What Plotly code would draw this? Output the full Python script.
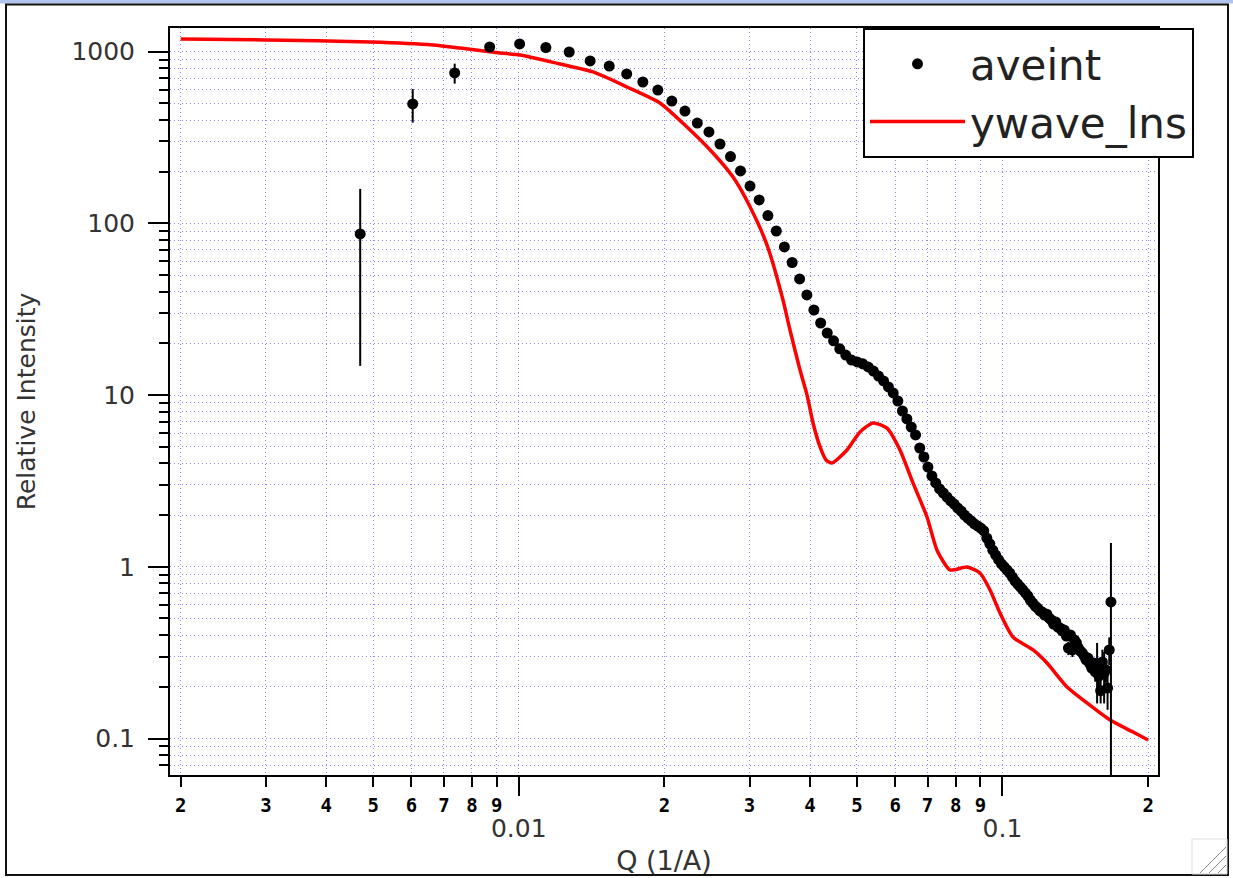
import plotly.graph_objects as go

# ---------------- data ----------------
q_aveint = [0.0047, 0.006035, 0.00737, 0.008705, 0.01004, 0.011375, 0.01271, 0.014045, 0.01538, 0.016715,
            0.01805, 0.019385, 0.02072, 0.022055, 0.02339, 0.024725, 0.02606, 0.027395, 0.02873, 0.030065,
            0.0314, 0.032735, 0.03407, 0.035405, 0.03674, 0.038075, 0.03941, 0.040745, 0.04208, 0.043415,
            0.04475, 0.046085, 0.04742, 0.048755, 0.05009, 0.051425, 0.05276, 0.054095, 0.05543, 0.056765,
            0.0581, 0.059435, 0.06077, 0.062105, 0.06344, 0.064775, 0.06611, 0.067445, 0.06878, 0.070115,
            0.07145, 0.072785, 0.07412, 0.075455, 0.07679, 0.078125, 0.07946, 0.080795, 0.08213, 0.083465,
            0.0848, 0.086135, 0.08747, 0.088805, 0.09014, 0.091475, 0.09281, 0.094145, 0.09548, 0.096815,
            0.09815, 0.099485, 0.10082, 0.102155, 0.10349, 0.104825, 0.10616, 0.107495, 0.10883, 0.110165,
            0.1115, 0.112835, 0.11417, 0.115505, 0.11684, 0.118175, 0.11951, 0.120845, 0.12218, 0.123515,
            0.12485, 0.126185, 0.12752, 0.128855, 0.13019, 0.131525, 0.13286, 0.134195, 0.13553, 0.136865,
            0.1382, 0.139535, 0.14087, 0.142205, 0.14354, 0.144875, 0.14621, 0.147545, 0.14888, 0.150215,
            0.15155, 0.152885, 0.15422, 0.155555, 0.15689, 0.158225, 0.15956, 0.160895, 0.16223, 0.163565,
            0.1649, 0.166235, 0.16757]
aveint = [86.8, 496, 752, 1065, 1109, 1058, 996, 883, 825, 742,
          666, 598, 516, 451, 384, 341, 290, 245, 202, 165,
          137, 111, 90.3, 72.9, 59.2, 47.5, 38.3, 31.3, 26.3, 23.0,
          20.7, 18.6, 17.1, 16.0, 15.6, 15.2, 14.6, 13.8, 12.9, 12.1,
          11.15, 10.3, 9.24, 8.08, 7.26, 6.52, 5.86, 4.92, 4.36, 3.81,
          3.38, 3.08, 2.84, 2.69, 2.55, 2.42, 2.32, 2.20, 2.11, 2.00,
          1.92, 1.85, 1.78, 1.73, 1.68, 1.62, 1.47, 1.36, 1.25, 1.17,
          1.10, 1.04, 1.00, 0.958, 0.920, 0.871, 0.826, 0.794, 0.763, 0.733,
          0.704, 0.676, 0.640, 0.615, 0.591, 0.575, 0.553, 0.545, 0.524, 0.530,
          0.503, 0.490, 0.464, 0.477, 0.446, 0.440, 0.423, 0.428, 0.395, 0.336,
          0.401, 0.328, 0.375, 0.360, 0.336, 0.323, 0.315, 0.302, 0.287, 0.294,
          0.272, 0.257, 0.275, 0.244, 0.26, 0.231, 0.19, 0.279, 0.24, 0.251,
          0.197, 0.328, 0.624]
# error bars that are visible beyond the markers (index into aveint, size)
err_index = [0, 1, 2, 99, 101, 110, 113, 114, 115, 116, 117, 118, 119, 120, 121, 122]
err_value = [72, 110, 100, 0.03, 0.03, 0.03, 0.03, 0.10, 0.04, 0.03, 0.05, 0.08, 0.04, 0.05, 0.06, 0.75]

q_model = [0.002, 0.003, 0.00493, 0.00665, 0.00756, 0.00915, 0.01006, 0.01217, 0.01424, 0.01674,
           0.01958, 0.02227, 0.0252, 0.02773, 0.03006, 0.0326, 0.03517, 0.03637, 0.03814, 0.03944,
           0.04058, 0.04196, 0.04317, 0.04442, 0.0477, 0.05075, 0.05399, 0.0577, 0.06139, 0.06531,
           0.06982, 0.07322, 0.0779, 0.08445, 0.08984, 0.09424, 0.09881, 0.1051, 0.1157, 0.1236,
           0.136, 0.1495, 0.1669, 0.1862, 0.2]
ywave_lns = [1186, 1170, 1139, 1094, 1051, 983, 957, 848, 762, 623,
             503, 364, 257, 186, 125, 74.8, 35.8, 23.9, 14.0, 10.0,
             6.88, 4.99, 4.19, 4.02, 4.79, 6.10, 6.88, 6.43, 4.79, 3.08,
             1.95, 1.25, 0.958, 0.997, 0.920, 0.733, 0.538, 0.390, 0.328, 0.275,
             0.1995, 0.161, 0.128, 0.109, 0.098]

x_digit_vals = [0.002, 0.003, 0.004, 0.005, 0.006, 0.007, 0.008, 0.009,
                0.02, 0.03, 0.04, 0.05, 0.06, 0.07, 0.08, 0.09, 0.2]
x_digit_text = ["2", "3", "4", "5", "6", "7", "8", "9",
                "2", "3", "4", "5", "6", "7", "8", "9", "2"]
x_major_vals = [0.01, 0.1]
x_major_text = ["0.01", "0.1"]
y_major_vals = [0.1, 1, 10, 100, 1000]
y_major_text = ["0.1", "1", "10", "100", "1000"]
y_minor_vals = [0.07, 0.08, 0.09,
                0.2, 0.3, 0.4, 0.5, 0.6, 0.7, 0.8, 0.9,
                2, 3, 4, 5, 6, 7, 8, 9,
                20, 30, 40, 50, 60, 70, 80, 90,
                200, 300, 400, 500, 600, 700, 800, 900]

x_range = [-2.7211, -0.6785]
y_range = [-1.2126, 3.138]

# ---------------- layout geometry ----------------
W, H = 1233, 878
L, R, T, B = 170, 1158, 28, 775


def px_x(px):
    return (px - L) / (R - L)


def px_y(py):
    return (B - py) / (B - T)


GRID = "#8c8cff"
GDASH = "1.2px,2.8px"

full_err = [0.0] * len(aveint)
for i, e in zip(err_index, err_value):
    full_err[i] = e

fig = go.Figure()

fig.add_trace(go.Scatter(
    x=q_model, y=ywave_lns, name="ywave_lns", mode="lines",
    line=dict(color="#ff0000", width=3.5, shape="spline", smoothing=0.6),
    xaxis="x", yaxis="y", legendrank=2,
))
fig.add_trace(go.Scatter(
    x=q_aveint, y=aveint, name="aveint", mode="markers",
    marker=dict(color="black", size=11, symbol="circle"),
    error_y=dict(type="data", array=full_err, visible=True, color="black", thickness=2, width=0),
    xaxis="x2", yaxis="y", legendrank=1,
))

tickfont_big = dict(family="DejaVu Sans", size=25, color="#333333")

fig.update_layout(
    width=W, height=H,
    margin=dict(l=L, r=W - R, t=T, b=H - B, autoexpand=False),
    paper_bgcolor="white", plot_bgcolor="white",
    showlegend=True,
    legend=dict(
        x=px_x(863), y=1, xanchor="left", yanchor="top",
        bgcolor="white", bordercolor="black", borderwidth=2,
        font=dict(family="DejaVu Sans", size=42, color="#222222"),
        itemsizing="trace", tracegroupgap=0, itemwidth=95,
    ),
    xaxis=dict(
        type="log", range=x_range, autorange=False,
        tickmode="array", tickvals=x_digit_vals, ticktext=x_digit_text,
        ticks="outside", ticklen=10, tickwidth=2, tickcolor="black",
        tickfont=dict(family="DejaVu Sans Mono", size=19, color="black", weight="bold"),
        ticklabelstandoff=2,
        showgrid=True, gridcolor=GRID, griddash=GDASH, gridwidth=1.3,
        showline=True, linecolor="black", linewidth=2, mirror=True, zeroline=False,
        automargin=False,
        title=dict(text="Q (1/A)", font=dict(family="DejaVu Sans", size=27, color="#333333"), standoff=36),
    ),
    xaxis2=dict(
        type="log", range=x_range, autorange=False,
        overlaying="x", anchor="y", side="bottom",
        tickmode="array", tickvals=x_major_vals, ticktext=x_major_text,
        ticks="outside", ticklen=20, tickwidth=2, tickcolor="black",
        tickfont=tickfont_big, ticklabelstandoff=11,
        showgrid=True, gridcolor=GRID, griddash=GDASH, gridwidth=1.3,
        showline=False, zeroline=False, automargin=False,
    ),
    yaxis=dict(
        type="log", range=y_range, autorange=False,
        tickmode="array", tickvals=y_major_vals, ticktext=y_major_text,
        ticks="outside", ticklen=20, tickwidth=2, tickcolor="black",
        tickfont=tickfont_big, ticklabelstandoff=8,
        showgrid=True, gridcolor=GRID, griddash=GDASH, gridwidth=1.3,
        minor=dict(tickvals=y_minor_vals, ticks="outside", ticklen=9, tickwidth=2, tickcolor="black",
                   showgrid=True, gridcolor=GRID, griddash=GDASH, gridwidth=1.3),
        showline=True, linecolor="black", linewidth=2, mirror=True, zeroline=False,
        automargin=False,
        title=dict(text="Relative Intensity", font=dict(family="DejaVu Sans", size=25, color="#333333"),
                   standoff=29),
    ),
)

# window chrome around the graph (Igor graph window)
shapes = [
    dict(type="rect", xref="paper", yref="paper", x0=px_x(0), x1=px_x(W), y0=px_y(3.5), y1=px_y(0),
         fillcolor="#b3c4ec", line=dict(width=0), layer="above"),
    dict(type="rect", xref="paper", yref="paper", x0=px_x(6), x1=px_x(1228), y0=px_y(875), y1=px_y(4.5),
         fillcolor="rgba(0,0,0,0)", line=dict(color="#111111", width=2), layer="above"),
    dict(type="rect", xref="paper", yref="paper", x0=px_x(1192), x1=px_x(1227), y0=px_y(874), y1=px_y(839),
         fillcolor="rgba(0,0,0,0)", line=dict(color="#dddddd", width=1), layer="above"),
]
for k in range(3):
    off = 8 + k * 9
    shapes.append(dict(type="line", xref="paper", yref="paper",
                       x0=px_x(1226 - off), y0=px_y(873), x1=px_x(1226), y1=px_y(873 - off),
                       line=dict(color="#888888", width=1), layer="above"))
fig.update_layout(shapes=shapes)

fig.write_html("out.html")
